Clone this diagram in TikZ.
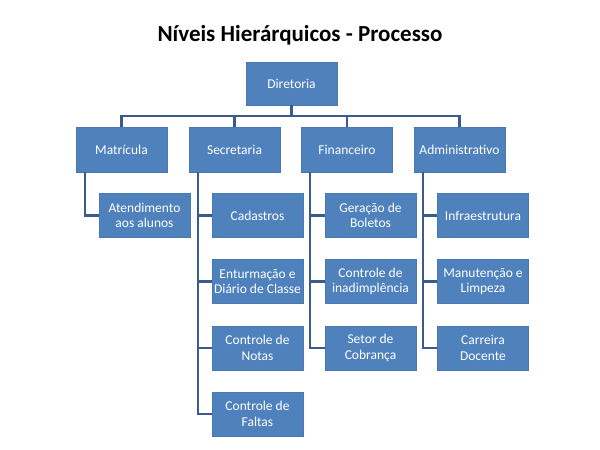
\documentclass[tikz,border=0pt]{standalone}
\usepackage{fontspec}
\setmainfont{Carlito}
\definecolor{boxfill}{HTML}{4F81BD}
\definecolor{boxline}{HTML}{4A78B0}
\definecolor{connline}{HTML}{3A5B8C}
\begin{document}
\begin{tikzpicture}[x=1pt,y=-1pt,
  orgbox/.style={rectangle, fill=boxfill, draw=boxline, line width=0.6pt,
    minimum width=91pt, minimum height=44pt, inner sep=1pt, align=center,
    text=white, font=\fontsize{13.5}{15.5}\selectfont},
  conn/.style={draw=connline, line width=2.2pt}]
\useasboundingbox[fill=white] (0,0) rectangle (600,450);
\node[font=\bfseries\fontsize{23}{26}\selectfont] (title) at (300,35) {Níveis Hierárquicos - Processo};
\node[orgbox, minimum height=43pt] (dir) at (291.5,83.5) {Diretoria};
\node[orgbox, minimum height=45pt] (mat) at (121.5,149.5) {Matrícula};
\node[orgbox, minimum height=45pt] (sec) at (234.5,149.5) {Secretaria};
\node[orgbox, minimum height=45pt] (fin) at (347,149.5) {Financeiro};
\node[orgbox, minimum height=45pt] (adm) at (459.5,149.5) {Administrativo};
% children
\node[orgbox] (att) at (144.5,215.5) {Atendimento\\aos alunos};
\node[orgbox] (cad) at (257.5,215.5) {Cadastros};
\node[orgbox] (ent) at (257.5,281.5) {Enturmação e\\Diário de Classe};
\node[orgbox] (not) at (257.5,348) {Controle de\\Notas};
\node[orgbox] (fal) at (257.5,414) {Controle de\\Faltas};
\node[orgbox] (bol) at (370.5,215.5) {Geração de\\Boletos};
\node[orgbox] (ina) at (370.5,281.5) {Controle de\\inadimplência};
\node[orgbox] (cob) at (370.5,348) {Setor de\\Cobrança};
\node[orgbox] (inf) at (483,215.5) {Infraestrutura};
\node[orgbox] (man) at (483,281.5) {Manutenção e\\Limpeza};
\node[orgbox] (car) at (483,348) {Carreira\\Docente};
% top connectors
\coordinate (bus) at (291.5,116);
\draw[conn] (dir.south) -- (bus);
\draw[conn] (bus) -| (mat.north);
\draw[conn] (bus) -| (sec.north);
\draw[conn] (bus) -| (fin.north);
\draw[conn] (bus) -| (adm.north);
% child connectors
\draw[conn] (mat.south west) ++(9,0) |- (att.west);
\foreach \c in {cad,ent,not,fal}{\draw[conn] (sec.south west) ++(9,0) |- (\c.west);}
\foreach \c in {bol,ina,cob}{\draw[conn] (fin.south west) ++(9,0) |- (\c.west);}
\foreach \c in {inf,man,car}{\draw[conn] (adm.south west) ++(9,0) |- (\c.west);}
\end{tikzpicture}
\end{document}
